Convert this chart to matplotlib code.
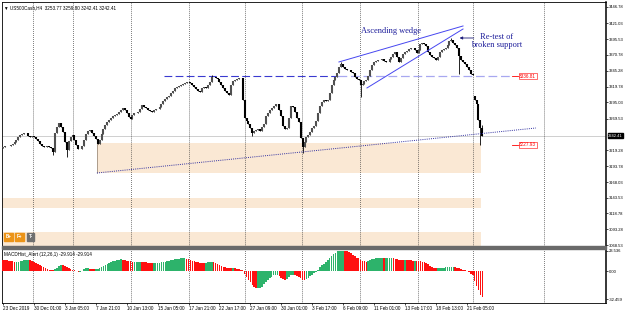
#! /usr/bin/env python3

import numpy as np
import matplotlib
matplotlib.use("Agg")
import matplotlib.pyplot as plt
from matplotlib.patches import Rectangle

W, H = 625, 313
PX_PER_BAR = 1.933

# US500Cash H4 closes, 23 Dec 2019 -> 24 Feb 2020
closes = [
    3224, 3226, 3226, 3226, 3228, 3229, 3232, 3235, 3240, 3243,
    3245, 3247, 3247, 3242, 3240, 3242, 3240, 3237, 3234, 3229,
    3226, 3224, 3224, 3226, 3224, 3223, 3216, 3247, 3256, 3262,
    3256, 3248, 3232, 3220, 3234, 3240, 3243, 3235, 3228, 3221,
    3221, 3226, 3235, 3245, 3250, 3251, 3247, 3242, 3237, 3229,
    3235, 3245, 3253, 3259, 3264, 3267, 3270, 3274, 3275, 3277,
    3280, 3283, 3286, 3283, 3278, 3272, 3269, 3275, 3278, 3278,
    3280, 3285, 3291, 3288, 3286, 3283, 3282, 3280, 3283, 3285,
    3285, 3288, 3293, 3297, 3301, 3304, 3305, 3310, 3313, 3318,
    3320, 3321, 3323, 3324, 3326, 3328, 3328, 3326, 3323, 3320,
    3317, 3313, 3312, 3318, 3320, 3318, 3323, 3328, 3336, 3336,
    3334, 3332, 3328, 3323, 3318, 3313, 3310, 3307, 3323, 3329,
    3331, 3332, 3334, 3334, 3299, 3270, 3266, 3261, 3255, 3247,
    3250, 3251, 3253, 3250, 3256, 3261, 3274, 3278, 3283, 3286,
    3290, 3293, 3293, 3283, 3274, 3258, 3253, 3255, 3270, 3290,
    3288, 3280, 3270, 3264, 3239, 3224, 3232, 3240, 3243, 3248,
    3255, 3258, 3266, 3278, 3290, 3296, 3299, 3297, 3299, 3310,
    3323, 3331, 3336, 3342, 3351, 3356, 3351, 3348, 3347, 3347,
    3344, 3342, 3336, 3332, 3331, 3323, 3324, 3329, 3331, 3337,
    3347, 3355, 3359, 3361, 3363, 3363, 3364, 3361, 3359, 3359,
    3364, 3367, 3372, 3375, 3367, 3359, 3366, 3372, 3375, 3377,
    3380, 3382, 3382, 3378, 3374, 3378, 3388, 3390, 3388, 3385,
    3375, 3371, 3367, 3366, 3363, 3367, 3375, 3378, 3380, 3382,
    3386, 3393, 3394, 3390, 3386, 3382, 3369, 3363, 3359, 3356,
    3351, 3347, 3340, 3338, 3299, 3293, 3267, 3253.77, 3242.41,
]
first_open = 3222.0
gap_opens = {244: 3306.0}
wick_lows = {26: 3212, 33: 3209, 129: 3241, 155: 3214, 185: 3304,
             236: 3340, 247: 3227.93}
wick_highs = {108: 3338, 175: 3360, 232: 3397.5, 248: 3259.80}

# MACDHist_Alert (12,26,1) values per bar
macd_hist = [
    12.6, 12.5, 12.3, 12.0, 11.5, 11.0, 10.7, 10.7, 10.9, 11.3,
    11.8, 12.3, 12.6, 12.6, 12.3, 11.5, 10.5, 9.5, 8.3, 7.0,
    5.8, 4.6, 3.4, 2.3, 1.5, 1.1, 1.0, 2.5, 4.0, 5.5,
    6.9, 6.5, 5.5, 4.2, 3.4, 2.5, 1.5, 1.0, 0.2, -0.8,
    -0.8, 0.5, 2.0, 3.0, 3.0, 2.5, 2.0, 1.8, 1.8, 2.0,
    3.0, 4.5, 5.5, 6.8, 8.0, 9.2, 10.3, 11.0, 11.8, 12.5,
    13.0, 13.4, 13.2, 12.6, 12.0, 11.5, 11.2, 10.7, 10.7, 10.7,
    10.7, 10.7, 10.5, 10.2, 9.8, 9.5, 9.2, 9.0, 9.0, 9.0,
    9.0, 9.3, 9.8, 10.3, 10.8, 11.4, 12.0, 12.6, 13.1, 13.6,
    14.0, 14.3, 14.5, 14.5, 14.5, 14.2, 13.6, 12.8, 12.0, 11.2,
    10.5, 10.0, 9.5, 9.2, 9.0, 9.3, 9.8, 10.5, 10.7, 10.5,
    9.6, 8.2, 6.8, 5.6, 5.0, 4.5, 3.8, 3.2, 3.0, 3.0,
    2.9, 2.5, 1.8, 1.2, 0.8, -3.0, -7.0, -10.3, -13.0, -16.0,
    -18.5, -19.9, -19.9, -19.5, -18.0, -15.0, -12.5, -10.5, -8.5, -6.5,
    -5.0, -4.6, -4.6, -5.5, -7.5, -9.5, -10.3, -9.5, -7.0, -5.0,
    -4.6, -5.0, -5.8, -6.5, -8.0, -10.0, -10.3, -9.5, -7.5, -5.5,
    -4.0, -2.5, -1.0, 1.5, 4.5, 6.9, 8.5, 10.5, 12.6, 15.0,
    17.0, 19.0, 21.0, 22.5, 23.3, 23.5, 23.536, 23.2, 22.8, 21.5,
    20.3, 18.8, 17.0, 15.5, 14.5, 13.0, 12.0, 11.2, 10.8, 11.5,
    12.5, 13.5, 14.2, 14.5, 14.5, 14.5, 14.5, 14.4, 14.5, 14.5,
    14.5, 14.5, 14.4, 14.2, 13.8, 13.2, 12.8, 12.6, 12.6, 12.5,
    12.3, 12.1, 11.9, 11.9, 11.8, 11.6, 11.2, 10.8, 10.4, 9.5,
    7.5, 5.8, 4.5, 3.4, 3.0, 3.0, 3.0, 3.2, 3.6, 4.2,
    4.8, 5.0, 5.0, 5.0, 4.8, 4.0, 3.0, 2.0, 1.5, 1.0,
    0.2, -1.5, -3.0, -4.6, -12.0, -17.0, -22.0, -27.0, -29.914,
]

price_ticks = [3446.78, 3421.03, 3395.53, 3370.78, 3345.28, 3319.78,
               3295.03, 3269.53, 3219.28, 3193.78, 3168.03, 3143.53,
               3118.78, 3093.28, 3068.53]
macd_ticks = [23.536, 0.0, -32.459]
macd_tick_labels = ["23.536", "0.00", "-32.459"]
time_labels = ["23 Dec 2019", "30 Dec 01:00", "3 Jan 05:00", "7 Jan 21:00",
               "10 Jan 13:00", "15 Jan 05:00", "17 Jan 21:00", "22 Jan 17:00",
               "27 Jan 09:00", "30 Jan 01:00", "3 Feb 17:00", "6 Feb 09:00",
               "11 Feb 01:00", "13 Feb 17:00", "18 Feb 13:00", "21 Feb 05:00"]
label_step = 16
week_starts = [15.5, 36.3, 66.3, 96.3, 125.3, 154.7, 184.7, 214.7, 243.3, 280.0]

# objects drawn on the chart, as (bar, price)
resistance = 3336.81
day_low = 3227.93
bid = 3242.41
wedge_upper = [(173.8, 3359.4), (238.0, 3416.6)]
wedge_lower = [(188.3, 3318.1), (238.0, 3411.8)]
trend_line = [(48.6, 3183.0), (275.7, 3254.5)]
zones = [(48.6, 247.3, 3183.0, 3230.7),
         (-1.0, 247.3, 3127.3, 3143.2),
         (-1.0, 247.3, 3055.0, 3088.5)]

FONT = ["Liberation Sans", "DejaVu Sans"]
SMALL = 3.3
AXIS = 3.0


def frac(x0, y0, x1, y1):
    """pixel box (top-left origin) -> figure fraction rect"""
    return [x0 / W, 1 - y1 / H, (x1 - x0) / W, (y1 - y0) / H]


def build_ohlc():
    c = np.array(closes, dtype=float)
    o = np.r_[first_open, c[:-1]]
    for i, v in gap_opens.items():
        o[i] = v
    h = np.maximum(o, c)
    l = np.minimum(o, c)
    for i, v in wick_lows.items():
        l[i] = min(l[i], v)
    for i, v in wick_highs.items():
        h[i] = max(h[i], v)
    return o, h, l, c


def main():
    plt.rcParams['font.family'] = FONT
    fig = plt.figure(figsize=(W / 100, H / 100), dpi=100)
    fig.patch.set_facecolor("white")

    ax = fig.add_axes(frac(2, 2, 606, 246))
    axm = fig.add_axes(frac(2, 249, 606, 303))

    xmin = -0.5
    xmax = xmin + 604 / PX_PER_BAR
    idx = np.arange(len(closes))

    # ---- price panel
    for x0, x1, p0, p1 in zones:
        ax.add_patch(Rectangle((x0, p0), x1 - x0, p1 - p0, facecolor="#fae8d4",
                               edgecolor="none", zorder=0))
    ax.vlines(zones[0][0], zones[0][2], zones[0][3], color="#a09080", lw=0.6, zorder=1)

    ax.axhline(bid, color="#c8c8c8", lw=0.6, zorder=1)
    for w in week_starts:
        for a in (ax, axm):
            a.axvline(w, color="#303030", lw=0.55, ls=(0, (1, 1.6)), zorder=1)

    o, h, l, c = build_ohlc()
    up = c >= o
    ax.vlines(idx, l, h, color="black", lw=0.6, zorder=3)
    ax.vlines(idx[up], o[up], c[up], color="#505050", lw=1.5, zorder=3)
    ax.vlines(idx[~up], c[~up], o[~up], color="black", lw=1.5, zorder=3)

    # resistance level (dark part then the lighter continuation)
    ax.plot([83.3, 173.3], [resistance, resistance], color="#3a3ad0", lw=0.8,
            ls=(0, (7, 3)), zorder=2)
    ax.plot([173.3, 263.3], [resistance, resistance], color="#a8a8f0", lw=0.9,
            ls=(0, (7, 3)), zorder=2)
    for lvl in (resistance, day_low):
        ax.plot([263.3, 266.6], [lvl, lvl], color="red", lw=0.6, zorder=4)
        ax.text(267.0, lvl, f"{lvl:.2f}", color="red", fontsize=SMALL,
                va="center", ha="left", zorder=5,
                bbox=dict(boxstyle="square,pad=0.12", fc="white", ec="red", lw=0.4))

    # wedge + trend line
    for line in (wedge_upper, wedge_lower):
        ax.plot([p[0] for p in line], [p[1] for p in line], color="#4646f0",
                lw=0.7, zorder=4)
    ax.plot([p[0] for p in trend_line], [p[1] for p in trend_line],
            color="#3030a0", lw=0.7, ls=(0, (1, 1.2)), zorder=4)

    ax.text(200.7, 3408.0, "Ascending wedge", color="#1c1c9a", fontsize=6,
            family="Liberation Serif", ha="center", va="center", zorder=5)
    ax.text(255.5, 3393.0, "Re-test of\nbroken support", color="#1c1c9a",
            fontsize=6, family="Liberation Serif", ha="center", va="center",
            linespacing=1.0, zorder=5)
    ax.annotate("", xy=(234.8, 3397.5), xytext=(245.0, 3397.5),
                arrowprops=dict(arrowstyle="-|>", color="#1c1c7a", lw=0.6,
                                mutation_scale=4), zorder=5)

    ax.text(0.003, 0.988, "\u25bc US500Cash,H4  3253.77 3259.80 3242.41 3242.41",
            transform=ax.transAxes, fontsize=SMALL, va="top", ha="left")

    ax.set_xlim(xmin, xmax)
    ax.set_ylim(3067.0, 3454.7)
    ax.set_xticks([])
    ax.yaxis.tick_right()
    ax.set_yticks(price_ticks)
    ax.set_yticklabels([f"{p:.2f}" for p in price_ticks])
    ax.tick_params(axis="y", labelsize=AXIS, length=1.3, width=0.5, pad=0.6)
    ax.annotate(f"{bid:.2f}", xy=(1.0, bid), xycoords=("axes fraction", "data"),
                xytext=(1.5, 0), textcoords="offset points", fontsize=AXIS,
                color="white", va="center", ha="left",
                bbox=dict(boxstyle="square,pad=0.1", fc="black", ec="black"))

    # ---- MACD panel
    hist = np.array(macd_hist)
    rising = np.r_[False, hist[1:] >= hist[:-1]]
    colors = np.where(rising, "#2db36b", "#ff1010")
    axm.bar(idx, hist, width=0.85, color=colors, linewidth=0, zorder=3)
    axm.text(0.003, 0.95, "MACDHist_Alert (12,26,1) -29.914 -29.914",
             transform=axm.transAxes, fontsize=SMALL, va="top", ha="left")
    axm.set_xlim(xmin, xmax)
    axm.set_ylim(-36.7, 25.26)
    axm.yaxis.tick_right()
    axm.set_yticks(macd_ticks)
    axm.set_yticklabels(macd_tick_labels)
    axm.tick_params(axis="y", labelsize=AXIS, length=1.3, width=0.5, pad=0.6)
    axm.set_xticks(np.arange(len(time_labels)) * label_step)
    axm.set_xticklabels(time_labels)
    axm.tick_params(axis="x", labelsize=SMALL, length=1.5, width=0.5, pad=1.0)
    plt.setp(axm.get_xticklabels(), ha="left")

    for a in (ax, axm):
        for s in a.spines.values():
            s.set_linewidth(0.6)
        a.spines["right"].set_linewidth(1.1)

    # panel separator
    fig.patches.append(Rectangle((2 / W, 1 - 248.6 / H), 604 / W, 2.4 / H,
                                 transform=fig.transFigure, color="#6a6a6a"))

    # one-click trading buttons
    for x, txt, col in ((8.5, "B+", "#ec9418"), (19.5, "F+", "#ec9418"),
                        (30.5, "T-", "#707070")):
        fig.text(x / W, 1 - 237 / H, txt, fontsize=SMALL, color="white",
                 ha="center", va="center", fontweight="bold",
                 bbox=dict(boxstyle="square,pad=0.35", fc=col, ec=col))

    fig.savefig("out.png", dpi=100)


if __name__ == "__main__":
    main()
